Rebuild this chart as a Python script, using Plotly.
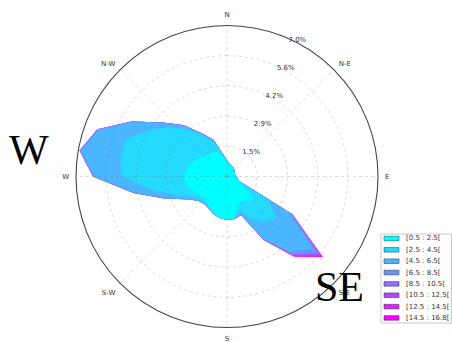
import numpy as np
import plotly.graph_objects as go

# ---------------- data ----------------
directions = list(range(0, 360, 10))  # degrees, N = 0, clockwise

speed_bins = ["[0.5 : 2.5[", "[2.5 : 4.5[", "[4.5 : 6.5[", "[6.5 : 8.5[",
              "[8.5 : 10.5[", "[10.5 : 12.5[", "[12.5 : 14.5[", "[14.5 : 16.8["]

# frequency (%) per direction for each wind-speed bin
freq_0_5_2_5 = [0.67, 0.56, 0.52, 0.50, 0.47, 0.42, 0.38, 0.36, 0.38, 0.42, 0.46, 0.50,
                0.90, 1.60, 1.50, 1.30, 1.50, 1.95, 1.98, 1.93, 1.80, 1.60, 1.50, 1.50,
                1.60, 1.80, 1.95, 2.00, 1.90, 1.75, 1.60, 1.45, 1.35, 1.30, 1.20, 0.90]
freq_2_5_4_5 = [0.05, 0.04, 0.03, 0.03, 0.02, 0.02, 0.02, 0.02, 0.02, 0.03, 0.04, 0.08,
                1.30, 1.40, 1.30, 0.90, 0.25, 0.03, 0.02, 0.02, 0.04, 0.08, 0.10, 0.12,
                0.30, 0.70, 1.60, 2.90, 3.10, 3.25, 2.65, 2.10, 1.50, 0.85, 0.45, 0.11]
freq_4_5_6_5 = [0.02, 0.02, 0.01, 0.01, 0.01, 0.01, 0.00, 0.00, 0.00, 0.00, 0.00, 0.02,
                1.10, 2.20, 1.75, 1.10, 0.10, 0.02, 0.00, 0.00, 0.01, 0.02, 0.05, 0.13,
                0.20, 0.45, 0.78, 1.25, 1.87, 1.32, 0.80, 0.30, 0.21, 0.13, 0.12, 0.03]
freq_6_5_8_5 = [0.01, 0.00, 0.00, 0.00, 0.00, 0.00, 0.00, 0.00, 0.00, 0.00, 0.00, 0.00,
                0.15, 0.30, 0.15, 0.05, 0.05, 0.00, 0.00, 0.00, 0.00, 0.00, 0.00, 0.00,
                0.00, 0.05, 0.07, 0.05, 0.06, 0.06, 0.04, 0.04, 0.03, 0.02, 0.03, 0.01]
freq_8_5_10_5 = [0.00] * 12 + [0.03, 0.10, 0.05, 0.03] + [0.00] * 11 + \
                [0.01, 0.01, 0.01, 0.01, 0.01, 0.01, 0.00, 0.00, 0.00]
freq_10_5_12_5 = [0.00] * 12 + [0.02, 0.08, 0.05, 0.02] + [0.00] * 20
freq_12_5_14_5 = [0.00] * 13 + [0.07, 0.03] + [0.00] * 21
freq_14_5_16_8 = [0.00] * 13 + [0.05, 0.02] + [0.00] * 21

bin_freqs = [freq_0_5_2_5, freq_2_5_4_5, freq_4_5_6_5, freq_6_5_8_5,
             freq_8_5_10_5, freq_10_5_12_5, freq_12_5_14_5, freq_14_5_16_8]

compass_vals = [0, 45, 90, 135, 180, 225, 270, 315]
compass_labels = ["N", "N-E", "E", "S-E", "S", "S-W", "W", "N-W"]

radial_ticks = [1.4, 2.8, 4.2, 5.6, 7.0]
radial_labels = ["1.5%", "2.9%", "4.2%", "5.6%", "7.0%"]

# ---------------- style ----------------
W, H = 452, 342
cx, cy, R = 227, 176.5, 151
colors = ["rgb(0,255,255)", "rgb(36,219,255)", "rgb(73,182,255)", "rgb(109,146,255)",
          "rgb(146,109,255)", "rgb(182,73,255)", "rgb(219,36,255)", "rgb(255,0,255)"]
grid_color = "rgba(110,110,110,0.32)"
small_font = dict(family="DejaVu Sans", size=7, color="#333")

def px_x(x):
    return x / W

def px_y(y):
    return 1 - y / H

fig = go.Figure()

# stacked (cumulative) filled polygons, outermost first
cum = np.cumsum(np.array(bin_freqs), axis=0)
for i in range(len(speed_bins) - 1, -1, -1):
    r = list(cum[i]) + [cum[i][0]]
    th = directions + [directions[0]]
    fig.add_trace(go.Scatterpolar(
        r=r, theta=th, mode="lines", fill="toself",
        fillcolor=colors[i], line=dict(color=colors[i], width=0),
        name=speed_bins[i], showlegend=False, hoverinfo="skip"))

# grid drawn above the fills (as in the reference)
ring_theta = np.linspace(0, 360, 361)
for v in radial_ticks[:-1]:
    fig.add_trace(go.Scatterpolar(
        r=[v] * len(ring_theta), theta=ring_theta, mode="lines",
        line=dict(color=grid_color, width=0.8, dash="dot"),
        showlegend=False, hoverinfo="skip"))
for a in compass_vals:
    fig.add_trace(go.Scatterpolar(
        r=[0, radial_ticks[-1]], theta=[a, a], mode="lines",
        line=dict(color=grid_color, width=0.8, dash="dot"),
        showlegend=False, hoverinfo="skip"))

fig.update_layout(
    width=W, height=H,
    margin=dict(l=0, r=0, t=0, b=0, pad=0),
    paper_bgcolor="white",
    showlegend=False,
    font=small_font,
    polar=dict(
        domain=dict(x=[px_x(cx - R), px_x(cx + R)], y=[px_y(cy + R), px_y(cy - R)]),
        bgcolor="white",
        angularaxis=dict(
            direction="clockwise", rotation=90,
            tickmode="array", tickvals=compass_vals, ticktext=compass_labels,
            showgrid=False, showline=True, linecolor="#444", linewidth=1.1,
            ticks="outside", ticklen=5, tickcolor="rgba(0,0,0,0)",
            tickfont=small_font,
        ),
        radialaxis=dict(
            range=[0, radial_ticks[-1]],
            tickmode="array", tickvals=radial_ticks, ticktext=radial_labels,
            angle=67.5, tickangle=67.5, showgrid=False, showline=False, ticks="",
            tickfont=small_font,
        ),
    ),
)

# custom compact legend (box, swatches, labels)
shapes = [dict(type="rect", xref="paper", yref="paper",
               x0=px_x(381), x1=px_x(451.5), y0=px_y(323), y1=px_y(234),
               line=dict(color="#c8c8c8", width=1), fillcolor="white")]
annotations = []
row0, step = 238.5, 11.35
for i, lab in enumerate(speed_bins):
    yc = row0 + i * step
    shapes.append(dict(type="rect", xref="paper", yref="paper",
                       x0=px_x(384), x1=px_x(399), y0=px_y(yc + 2.3), y1=px_y(yc - 2.3),
                       line=dict(color="rgba(40,40,40,0.6)", width=0.8),
                       fillcolor=colors[i]))
    annotations.append(dict(x=px_x(404), y=px_y(yc), xref="paper", yref="paper",
                            text=lab, showarrow=False, xanchor="left", yanchor="middle",
                            font=small_font))

annotations.append(dict(x=px_x(29), y=px_y(150), xref="paper", yref="paper", text="W",
                        showarrow=False, xanchor="center", yanchor="middle",
                        font=dict(family="Liberation Serif", size=42, color="black")))
annotations.append(dict(x=px_x(339), y=px_y(287), xref="paper", yref="paper", text="SE",
                        showarrow=False, xanchor="center", yanchor="middle",
                        font=dict(family="Liberation Serif", size=42, color="black")))

fig.update_layout(shapes=shapes, annotations=annotations)

fig.write_html("out.html")
